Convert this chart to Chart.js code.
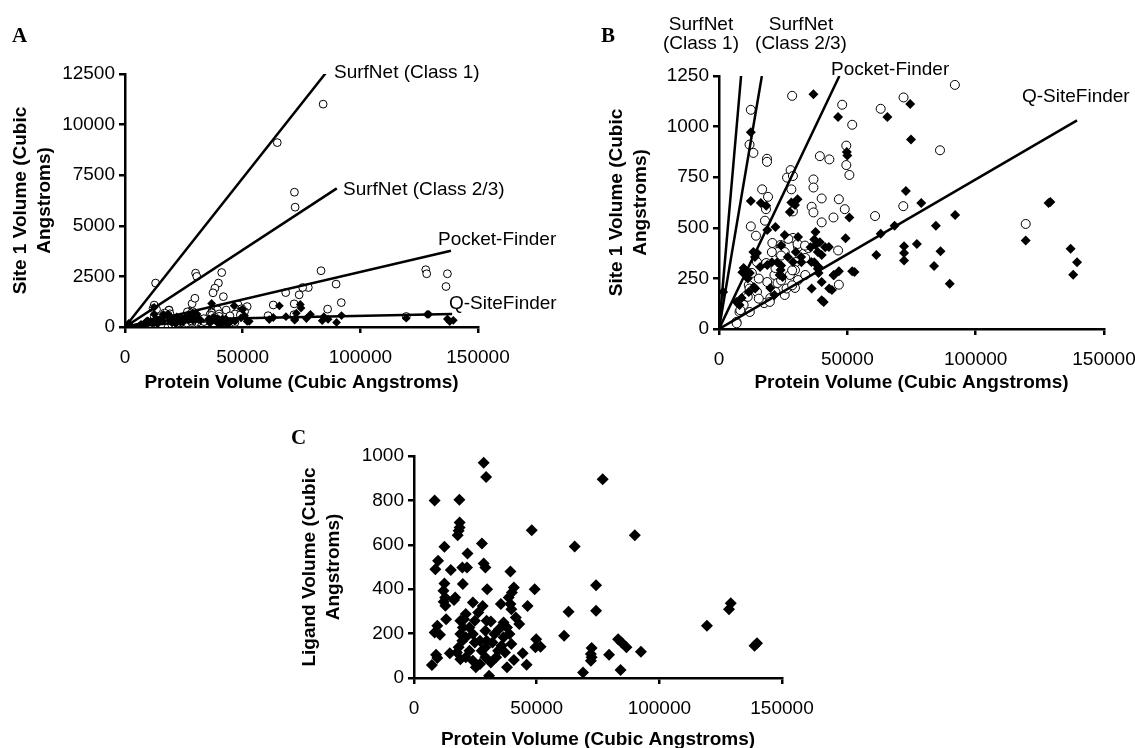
<!DOCTYPE html>
<html>
<head>
<meta charset="utf-8">
<script src="https://cdn.jsdelivr.net/npm/chart.js@4.4.0/dist/chart.umd.min.js"></script>
<style>
body{margin:0;background:#fff;width:1135px;height:748px;overflow:hidden;position:relative;font-family:"Liberation Sans",Arial,sans-serif;color:#000}
canvas{position:absolute}
.lbl{position:absolute;font-size:19px;line-height:19px;white-space:nowrap}
.ctr{text-align:center}
.panel{position:absolute;font-family:"Liberation Serif","Times New Roman",serif;font-weight:bold;font-size:21px;line-height:21px}
</style>
</head>
<body>
<canvas id="chartA" width="560" height="395" style="left:0;top:0"></canvas>
<canvas id="chartB" width="600" height="395" style="left:560px;top:0"></canvas>
<canvas id="chartC" width="580" height="352" style="left:260px;top:400px"></canvas>

<div class="panel" style="left:12px;top:25px">A</div>
<div class="panel" style="left:601px;top:25px">B</div>
<div class="panel" style="left:291px;top:427px">C</div>

<div class="lbl" style="left:334px;top:62px">SurfNet (Class 1)</div>
<div class="lbl" style="left:343px;top:179px">SurfNet (Class 2/3)</div>
<div class="lbl" style="left:438px;top:229px">Pocket-Finder</div>
<div class="lbl" style="left:449px;top:293px">Q-SiteFinder</div>

<div class="lbl ctr" style="left:651px;top:14px;width:100px">SurfNet<br>(Class 1)</div>
<div class="lbl ctr" style="left:751px;top:14px;width:100px">SurfNet<br>(Class 2/3)</div>
<div class="lbl" style="left:831px;top:59px">Pocket-Finder</div>
<div class="lbl" style="left:1022px;top:86px">Q-SiteFinder</div>

<script>
// protein volume vs site 1 volume, open circles (values up to 1250)
const openSite = [
  [28500,1152],[12400,1083],[11900,911],[13400,870],[18700,841],[18700,826],[48000,1108],[51900,1009],
  [49600,906],[49600,810],[50800,761],[39300,854],[43000,838],[63000,1088],[71900,1144],[91900,1206],
  [86100,883],[71800,607],[60800,558],[119500,519],[46400,388],[46700,219],[27900,785],[26500,748],
  [28800,756],[28200,690],[28800,581],[16800,690],[19100,653],[18300,592],[17900,535],[12400,507],
  [14400,461],[36800,739],[36800,699],[36100,604],[36800,576],[40000,645],[40000,527],[46700,641],
  [49000,592],[44600,551],[20800,425],[24000,415],[28800,450],[30800,405],[25600,380],[34800,400],
  [30000,331],[33600,351],[29600,291],[30800,242],[29600,203],[21600,267],[22800,227],[18800,232],
  [14800,183],[10800,168],[9600,119],[12000,84],[8000,84],[6800,35],[20000,153],[25600,168],
  [17600,128],[27600,267],[33600,267],[22800,380],[22000,301],[14800,331],[12800,277],[11600,217],
  [18400,326],[20600,380],[24200,363],[27000,445],[30600,420],[33500,412],[24200,240],[22000,183],
  [26300,200],[28500,216],[15500,249],[11900,200],[8300,93],[6900,28],[11200,159],[15500,150],
  [19800,134],[28500,290]
];
// open circles above 1250 (only visible in panel A)
const openSiteLarge = [
  [13000,2170],[30000,2660],[30500,2500],[41100,2690],[39700,2170],[38200,1920],[37400,1690],[41800,1500],
  [29700,1420],[64700,9110],[84200,11010],[72000,6660],[72300,5920],[83300,2780],[89700,2120],[77900,1950],
  [75500,1950],[74000,1590],[68300,1700],[127800,2830],[128200,2630],[137000,2630],[136400,2000]
];
// filled diamonds, site 1 volume
const filledSite = [
  [36800,1160],[46400,1047],[65600,1047],[74500,1112],[74800,936],[12400,972],[12400,633],[16300,622],
  [28200,625],[30600,641],[18400,609],[49800,874],[50000,857],[50800,551],[49300,448],[72800,682],
  [78800,622],[63000,470],[68400,510],[84500,510],[92000,563],[61300,366],[72100,409],[72100,376],
  [72100,339],[77100,420],[86300,384],[83800,311],[89900,224],[51900,285],[119500,437],[129100,628],
  [128400,622],[137000,396],[139500,330],[138000,268],[40000,142],[36100,200],[42900,200],[41400,404],
  [44600,265],[46700,285],[27600,578],[29600,613],[22000,504],[18800,489],[25600,464],[30800,454],
  [37600,479],[42800,405],[14800,375],[14000,356],[18800,316],[24000,291],[24800,257],[26800,356],
  [32000,356],[36000,331],[38800,306],[40000,366],[38800,277],[10000,282],[9600,301],[12000,277],
  [16000,306],[6800,133],[8800,153],[40000,232],[44800,267],[44000,193],[40800,133],[52800,282],
  [37600,415],[20000,203],[21600,168],[23600,267],[28800,331],[13600,207],[11600,183],[8000,119],
  [1600,183],[37100,442],[39300,429],[38500,380],[29900,380],[24200,412],[22700,330],[13400,380],
  [9100,281],[11200,249],[14100,200],[20600,330],[32100,330],[37100,330],[38500,298],[24200,314],[35700,404]
];
// panel C: protein volume vs ligand volume
const ligand = [
  [28400,970],[29400,905],[8400,800],[18500,803],[76900,895],[18600,700],[18600,678],[18200,663],
  [17800,643],[48000,666],[90000,643],[65500,592],[27700,606],[12400,591],[9800,528],[8700,490],
  [21800,561],[28400,516],[29100,498],[19700,498],[21600,498],[15000,486],[19900,423],[39300,480],
  [12400,426],[12000,393],[12700,363],[16800,363],[16300,351],[12100,343],[12800,325],[29800,400],
  [24000,340],[28000,324],[35400,333],[38600,363],[40700,408],[39900,385],[39300,333],[39700,310],
  [49200,400],[46300,324],[41500,273],[42900,243],[74200,418],[74200,303],[63000,298],[61200,190],
  [119400,235],[129100,337],[128400,310],[138800,145],[139800,156],[13100,265],[9500,235],[8400,205],
  [10600,195],[9000,105],[9500,90],[7300,58],[14600,112],[30600,10],[68900,25],[84200,36],
  [79500,105],[72400,135],[72100,108],[72100,78],[72400,93],[83200,175],[84600,160],[86600,138],
  [92500,118],[49800,175],[49500,138],[51600,141],[45900,60],[37900,48],[40700,81],[44300,111],
  [18900,258],[20400,265],[21100,288],[19900,228],[18900,198],[19700,168],[21100,183],[22600,228],
  [24800,258],[24000,198],[24800,160],[22600,123],[21100,93],[24000,78],[25200,48],[26900,63],
  [29100,93],[29100,138],[29600,168],[29100,213],[29600,258],[32000,160],[32800,198],[33500,93],
  [34300,123],[35700,145],[36500,183],[37900,228],[36500,250],[38900,198],[39700,153],[37100,115],
  [31300,70],[18200,138],[17500,115],[18900,85],[26900,168],[27600,123],[34600,220],[31300,255],[26200,295]
];
// fit lines (start at origin)
const linesA = [
  [[0,0],[86000,12650]],
  [[0,0],[90000,6850]],
  [[0,0],[138500,3770]],
  [[0,0],[45000,420],[139000,640]]
];
const linesB = [
  [[0,0],[8600,1250]],
  [[0,0],[16700,1250]],
  [[0,0],[46900,1250]],
  [[0,0],[139500,1031]]
];
const xTicks = {min:0, max:150000, step:50000};

const tickFont = {family:'"Liberation Sans", Arial, sans-serif', size:19};
const titleFont = {family:'"Liberation Sans", Arial, sans-serif', size:19, weight:'bold', lineHeight:1.3};
const pts = a => a.map(p => ({x:p[0], y:p[1]}));

function scales(yMax, yStep, yTitle, yW, xH, yTitlePad){
  return {
    x:{type:'linear', min:xTicks.min, max:xTicks.max,
      ticks:{stepSize:xTicks.step, padding:13, color:'#000', font:tickFont, callback:v=>String(v)},
      grid:{drawOnChartArea:false, tickLength:6, color:'#000', lineWidth:2.5},
      border:{color:'#000', width:2.5},
      title:{display:true, text:'Protein Volume (Cubic Angstroms)', color:'#000', font:titleFont, padding:0},
      afterFit:s=>{s.height = xH;}},
    y:{type:'linear', min:0, max:yMax,
      ticks:{stepSize:yStep, padding:4, color:'#000', font:tickFont, callback:v=>String(v)},
      grid:{drawOnChartArea:false, tickLength:6, color:'#000', lineWidth:2.5},
      border:{color:'#000', width:2.5},
      title:{display:true, text:yTitle, color:'#000', font:titleFont, padding:{top:yTitlePad, bottom:0}},
      afterFit:s=>{s.width = yW;}}
  };
}

function circleSet(data, r){
  return {data:pts(data), pointStyle:'circle', pointRadius:r, pointBorderWidth:1,
    pointBackgroundColor:'#fff', pointBorderColor:'#000', order:3};
}
function diamondSet(data, r){
  return {data:pts(data), pointStyle:'rectRot', pointRadius:r, pointBorderWidth:0,
    pointBackgroundColor:'#000', pointBorderColor:'#000', order:2};
}
function lineSets(lines){
  return lines.map(l => ({data:pts(l), showLine:true, borderColor:'#000', borderWidth:2.5,
    pointRadius:0, order:1}));
}

const common = {responsive:false, animation:false, events:[],
  plugins:{legend:{display:false}, tooltip:{enabled:false}}};

new Chart(document.getElementById('chartA'), {
  type:'scatter',
  data:{datasets:[circleSet(openSite.concat(openSiteLarge), 3.9), diamondSet(filledSite, 4.4)].concat(lineSets(linesA))},
  options:Object.assign({}, common, {
    layout:{padding:{left:0, top:74, right:82, bottom:0}},
    scales:scales(12500, 2500, ['Site 1 Volume (Cubic','Angstroms)'], 125, 68, 8)
  })
});

new Chart(document.getElementById('chartB'), {
  type:'scatter',
  data:{datasets:[circleSet(openSite, 4.5), diamondSet(filledSite, 5)].concat(lineSets(linesB))},
  options:Object.assign({}, common, {
    layout:{padding:{left:0, top:76, right:56, bottom:0}},
    scales:scales(1250, 250, ['Site 1 Volume (Cubic','Angstroms)'], 159, 66, 44)
  })
});

new Chart(document.getElementById('chartC'), {
  type:'scatter',
  data:{datasets:[diamondSet(ligand, 6)]},
  options:Object.assign({}, common, {
    layout:{padding:{left:0, top:56, right:58, bottom:0}},
    scales:scales(1000, 200, ['Ligand Volume (Cubic','Angstroms)'], 154, 74, 37)
  })
});
</script>
</body>
</html>
